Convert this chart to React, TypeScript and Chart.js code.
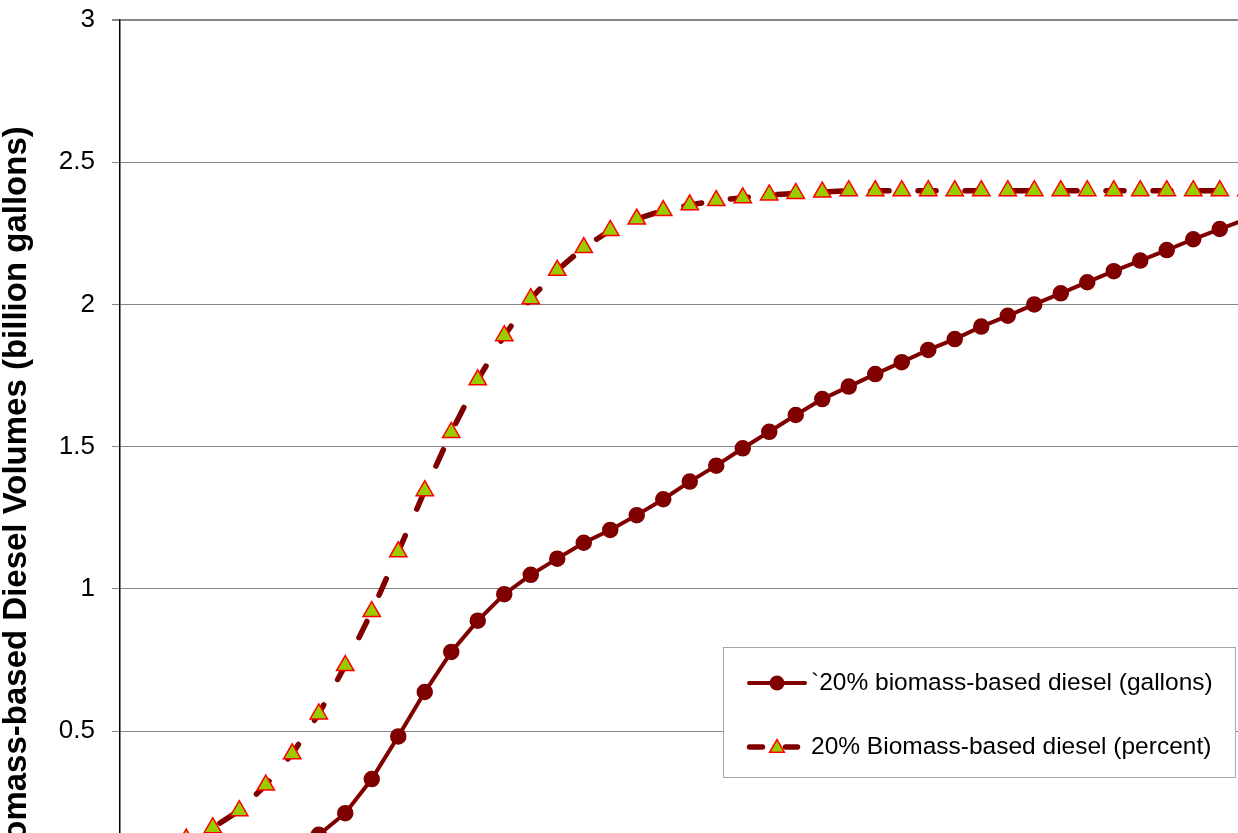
import React, { useEffect, useRef } from 'react';
import { Chart, registerables } from 'chart.js';

Chart.register(...registerables);

const FONT = "'Liberation Sans', Arial, Helvetica, sans-serif";

// One category per projection step; the axis itself is not labelled.
const steps: string[] = Array.from({ length: 43 }, (_, i) => `Step ${i + 1}`);

const gallonsLabel = '`20% biomass-based diesel (gallons)';
const percentLabel = '20% Biomass-based diesel (percent)';
const yAxisTitle = 'Biomass-based Diesel Volumes (billion gallons)';

const gallonsValues: number[] = [
  0.02, 0.03, 0.04, 0.05, 0.06, 0.075, 0.09,
  0.135, 0.211, 0.331, 0.481, 0.637, 0.778, 0.888, 0.981, 1.049, 1.106,
  1.162, 1.207, 1.259, 1.315, 1.377, 1.433, 1.494, 1.552, 1.611, 1.667,
  1.711, 1.755, 1.797, 1.84, 1.878, 1.922, 1.96, 2.0, 2.039, 2.078,
  2.117, 2.154, 2.191, 2.229, 2.265, 2.3,
];

const percentValues: number[] = [
  0.05, 0.08, 0.12, 0.16, 0.22, 0.31, 0.42, 0.56, 0.73, 0.92,
  1.13, 1.345, 1.55, 1.735, 1.89, 2.02, 2.12, 2.2, 2.26, 2.3,
  2.33, 2.35, 2.365, 2.375, 2.385, 2.39, 2.395,
  2.4, 2.4, 2.4, 2.4, 2.4, 2.4, 2.4, 2.4,
  2.4, 2.4, 2.4, 2.4, 2.4, 2.4, 2.4, 2.4,
];

const yTickLabels: string[] = ['0', '0.5', '1', '1.5', '2', '2.5', '3'];

const MAROON = '#800000';
const LIME = '#99cc00';
const RED = '#ff0000';

function drawTriangle(ctx: CanvasRenderingContext2D, x: number, y: number, r: number) {
  ctx.beginPath();
  ctx.moveTo(x, y - r);
  ctx.lineTo(x + 0.866 * r, y + 0.5 * r);
  ctx.lineTo(x - 0.866 * r, y + 0.5 * r);
  ctx.closePath();
  ctx.fillStyle = LIME;
  ctx.fill();
  ctx.lineWidth = 1.5;
  ctx.strokeStyle = RED;
  ctx.stroke();
}

// Boxed legend sitting inside the plot area, plus the rotated value-axis title.
const decorPlugin = {
  id: 'decor',
  afterDraw(chart: Chart) {
    const ctx = chart.ctx;
    ctx.save();

    // axis title
    ctx.save();
    ctx.translate(17, 500);
    ctx.rotate(-Math.PI / 2);
    ctx.font = `bold 33px ${FONT}`;
    ctx.fillStyle = '#000';
    ctx.textAlign = 'center';
    ctx.textBaseline = 'middle';
    ctx.fillText(yAxisTitle, 0, 0);
    ctx.restore();

    // legend box
    const bx = 723.5, by = 647.5, bw = 512, bh = 130;
    ctx.fillStyle = '#ffffff';
    ctx.fillRect(bx, by, bw, bh);
    ctx.strokeStyle = '#a6a6a6';
    ctx.lineWidth = 1;
    ctx.strokeRect(bx, by, bw, bh);

    const rowY = [683, 747];
    const symX = 777;
    ctx.lineCap = 'round';

    // row 1: solid line with circle
    ctx.strokeStyle = MAROON;
    ctx.lineWidth = 4;
    ctx.beginPath();
    ctx.moveTo(749, rowY[0]);
    ctx.lineTo(805, rowY[0]);
    ctx.stroke();
    ctx.beginPath();
    ctx.arc(symX, rowY[0], 7.5, 0, Math.PI * 2);
    ctx.fillStyle = MAROON;
    ctx.fill();

    // row 2: dashed line with triangle
    ctx.lineWidth = 5.5;
    ctx.beginPath();
    ctx.moveTo(749.5, rowY[1]);
    ctx.lineTo(762.5, rowY[1]);
    ctx.moveTo(785.5, rowY[1]);
    ctx.lineTo(797.5, rowY[1]);
    ctx.stroke();
    drawTriangle(ctx, symX, rowY[1] + 1, 8.5);

    ctx.font = `24.5px ${FONT}`;
    ctx.fillStyle = '#000';
    ctx.textAlign = 'left';
    ctx.textBaseline = 'middle';
    ctx.fillText(gallonsLabel, 811, rowY[0]);
    ctx.fillText(percentLabel, 811, rowY[1]);

    ctx.restore();
  },
};

export default function App() {
  const canvasRef = useRef<HTMLCanvasElement | null>(null);

  useEffect(() => {
    const canvas = canvasRef.current;
    if (!canvas) return;
    Chart.defaults.font.family = FONT;

    const chart = new Chart(canvas, {
      type: 'line',
      data: {
        labels: steps,
        datasets: [
          {
            label: gallonsLabel,
            data: gallonsValues,
            borderColor: MAROON,
            backgroundColor: MAROON,
            borderWidth: 4,
            tension: 0,
            pointStyle: 'circle',
            pointRadius: 7.5,
            pointBorderWidth: 1.5,
            pointBackgroundColor: MAROON,
            pointBorderColor: MAROON,
            fill: false,
          },
          {
            label: percentLabel,
            data: percentValues,
            borderColor: MAROON,
            backgroundColor: LIME,
            borderWidth: 5.5,
            borderDash: [18, 29],
            borderCapStyle: 'round',
            tension: 0,
            pointStyle: 'triangle',
            pointRadius: 10,
            pointBorderWidth: 1.5,
            pointBackgroundColor: LIME,
            pointBorderColor: RED,
            fill: false,
          },
        ],
      },
      options: {
        responsive: false,
        animation: false,
        devicePixelRatio: 1,
        layout: { padding: { left: 0, top: 20, right: 40.5, bottom: 26.8 } },
        plugins: {
          legend: { display: false },
          tooltip: { enabled: false },
        },
        scales: {
          x: {
            type: 'category',
            display: false,
            offset: true,
          },
          y: {
            min: 0,
            max: 3,
            afterFit: (scale: any) => {
              scale.width = 120;
              scale.paddingTop = 0;
              scale.paddingBottom = 0;
            },
            grid: {
              color: '#868686',
              lineWidth: (c: any) => (c.tick && c.tick.value === 3 ? 2 : 1),
              drawTicks: true,
              tickLength: 8,
            },
            border: { display: true, color: '#000000', width: 1.5 },
            ticks: {
              stepSize: 0.5,
              padding: 17,
              color: '#000000',
              font: { size: 26, family: FONT },
              callback: (_v: any, i: number) => yTickLabels[i],
            },
          },
        },
      },
      plugins: [decorPlugin],
    });

    return () => chart.destroy();
  }, []);

  return (
    <div
      style={{
        position: 'fixed',
        left: 0,
        top: 0,
        width: 1238,
        height: 833,
        overflow: 'hidden',
        background: '#ffffff',
      }}
    >
      <canvas ref={canvasRef} width={1300} height={900} style={{ display: 'block' }} />
    </div>
  );
}
